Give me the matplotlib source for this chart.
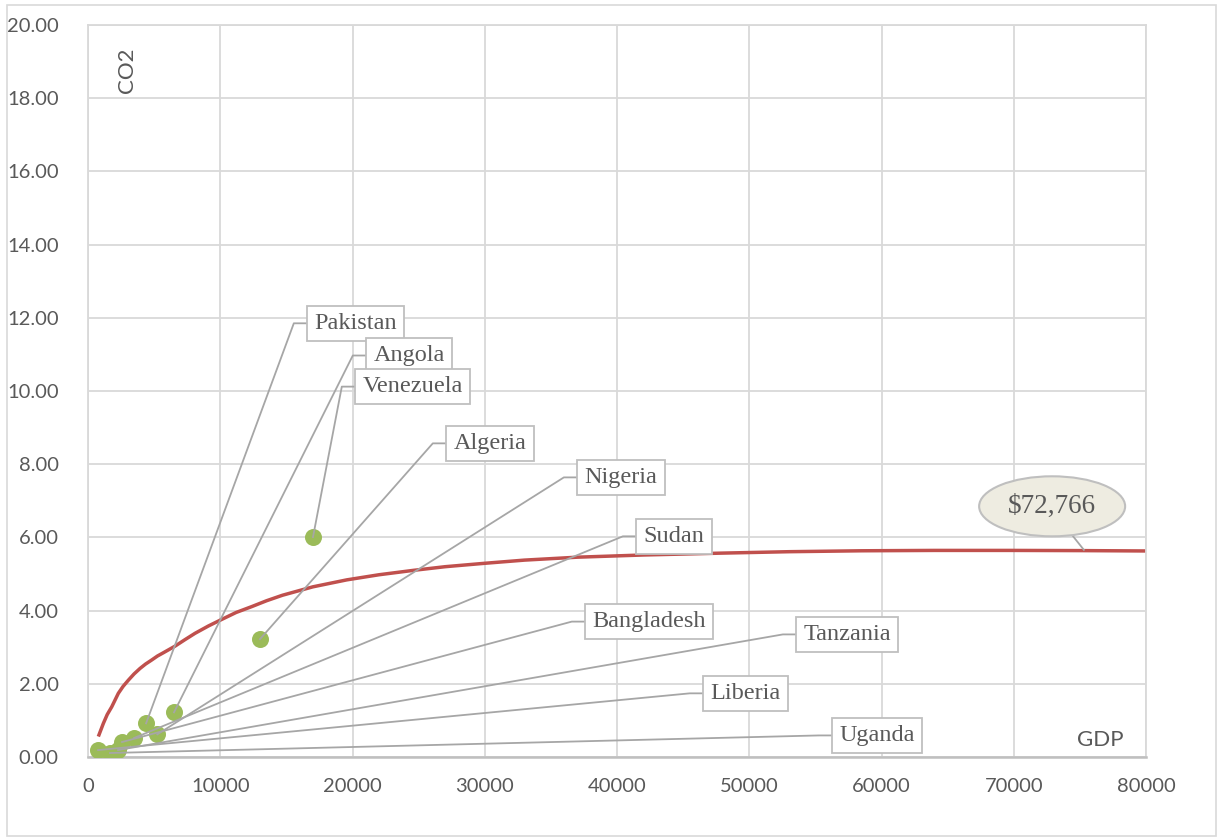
import matplotlib.pyplot as plt
from matplotlib.patches import Ellipse, Rectangle

# country points (GDP per capita, CO2 per capita)
countries = ['Pakistan', 'Angola', 'Venezuela', 'Algeria', 'Nigeria',
             'Sudan', 'Bangladesh', 'Tanzania', 'Liberia', 'Uganda']
gdp = [4390, 6500, 17010, 13000, 5240, 3480, 2570, 2270, 760, 1660]
co2 = [0.92, 1.22, 6.01, 3.22, 0.62, 0.52, 0.41, 0.19, 0.19, 0.11]

# label boxes: left edge (data x) and centre height (data y)
label_x = [16560, 21020, 20190, 27070, 36980, 41440, 37580, 53540, 46500, 56260]
label_y = [11.85, 10.97, 10.12, 8.57, 7.64, 6.03, 3.70, 3.35, 1.74, 0.59]

# trend curve
trend_x = [780, 1160, 1450, 1790, 2290, 2650, 3050, 3480, 3930, 4350, 4810,
           5250, 5700, 6580, 7300, 8090, 9100, 10110, 11200, 12380, 13500,
           14700, 17000, 19560, 22000, 24600, 27000, 29890, 33000, 37000,
           42000, 47790, 53000, 58500, 64000, 69700, 75000, 80000]
trend_y = [0.56, 0.92, 1.16, 1.37, 1.74, 1.93, 2.10, 2.27, 2.42, 2.54, 2.65,
           2.76, 2.85, 3.03, 3.20, 3.38, 3.58, 3.76, 3.95, 4.11, 4.27,
           4.42, 4.65, 4.84, 4.98, 5.10, 5.20, 5.29, 5.38, 5.46,
           5.52, 5.57, 5.61, 5.635, 5.645, 5.645, 5.64, 5.63]

peak_label = '$72,766'

GREY = '#595959'
GRID = '#d9d9d9'
LEAD = '#a6a6a6'

fig = plt.figure(figsize=(12.21, 8.39), dpi=100)
fig.patches.append(Rectangle((0.006, 0.004), 0.99, 0.99, transform=fig.transFigure,
                             fill=False, edgecolor=GRID, lw=1.2))
ax = fig.add_axes([0.0721, 0.0977, 0.8665, 0.8725])

ax.set_xlim(0, 80000)
ax.set_ylim(0, 20)
ax.set_xticks(range(0, 80001, 10000))
ax.set_yticks(range(0, 21, 2))
ax.set_yticklabels([f'{v:.2f}' for v in range(0, 21, 2)])
ax.grid(True, color=GRID, lw=1.3)
ax.set_axisbelow(True)
for s in ax.spines.values():
    s.set_color(GRID)
    s.set_linewidth(1.3)
ax.spines['bottom'].set_color('#bfbfbf')
ax.spines['bottom'].set_linewidth(1.8)
ax.tick_params(length=0, labelsize=14.5, labelcolor=GREY)
ax.tick_params(axis='y', pad=21)
ax.tick_params(axis='x', pad=15)
for lab in ax.get_xticklabels() + ax.get_yticklabels():
    lab.set_family('Lato')

ax.plot(trend_x, trend_y, color='#c0504d', lw=2.5, zorder=2,
        solid_capstyle='butt', solid_joinstyle='round')
ax.scatter(gdp, co2, s=150, color='#9bbb59', zorder=3, linewidths=0)

# leader lines + boxed labels
dx_elbow = 1000
for name, x, y, lx, ly in zip(countries, gdp, co2, label_x, label_y):
    ax.plot([x, lx - dx_elbow, lx], [y, ly, ly], color=LEAD, lw=1.3, zorder=4)
    ax.text(lx + 560, ly, name, ha='left', va='center', fontsize=17.5,
            family='Liberation Serif', color=GREY, zorder=5,
            bbox=dict(boxstyle='square,pad=0.3', fc='white', ec='#bfbfbf', lw=1.3))

# peak callout
ax.plot([72900, 75300], [6.75, 5.66], color=LEAD, lw=1.3, zorder=4)
ax.add_patch(Ellipse((72900, 6.85), 11040, 1.64, fc='#eeece1', ec='#bfbfbf',
                     lw=1.5, zorder=5))
ax.text(72900, 6.85, peak_label, ha='center', va='center', fontsize=19.5,
        family='Liberation Serif', color=GREY, zorder=6)

ax.text(2950, 18.77, 'CO2', rotation=90, ha='center', va='center',
        fontsize=16, family='Lato', color=GREY)
ax.text(76520, 0.46, 'GDP', ha='center', va='center',
        fontsize=16, family='Lato', color=GREY)

fig.savefig('out.png', dpi=100)
